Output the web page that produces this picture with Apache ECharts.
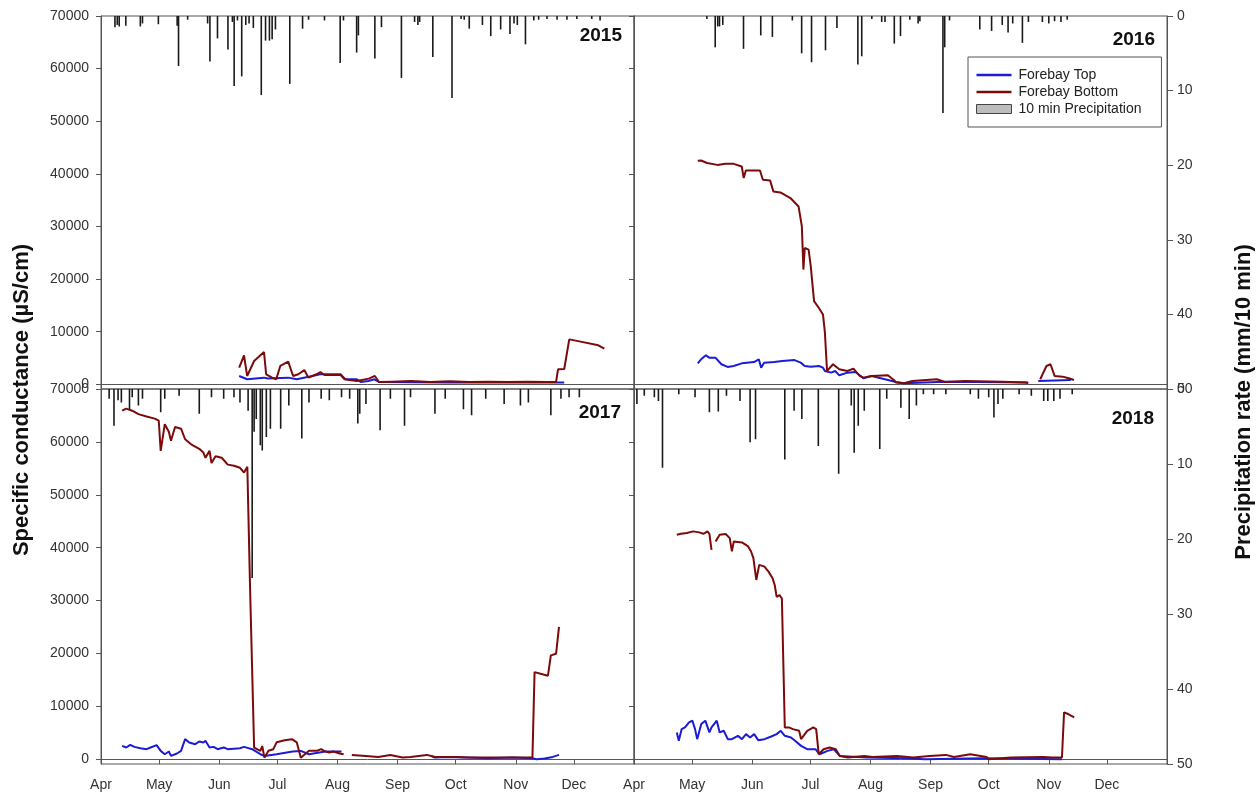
<!DOCTYPE html>
<html>
<head>
<meta charset="utf-8">
<script src="https://cdn.jsdelivr.net/npm/echarts@6/dist/echarts.min.js"></script>
<style>
  html, body { margin: 0; padding: 0; background: #fff; }
  #chart { width: 1260px; height: 794px; }
</style>
</head>
<body>
<div id="chart"></div>
<script>
// x values are days since 1 April of each year
const monthStarts = [0, 30, 61, 91, 122, 153, 183, 214, 244];
const monthNames = ['Apr', 'May', 'Jun', 'Jul', 'Aug', 'Sep', 'Oct', 'Nov', 'Dec'];
const condTicks = [0, 10000, 20000, 30000, 40000, 50000, 60000, 70000];
const years = ['2015', '2016', '2017', '2018'];

// 2015
const bottom2015 = [[71.3,3160],[73.8,5500],[75.4,1580],[79,4420],[84.1,6130],[85.2,1900],[88.3,1260],[90.4,950],[92.5,3480],[96.6,4300],[99.1,1580],[101.8,1900],[104.9,2700],[107,1260],[111.2,1900],[113.2,2300],[115.3,1770],[123.6,1770],[125.7,950],[131.9,630],[138.2,1070],[141.3,1580],[143.4,440],[150,500],[160,600],[170,450],[180,550],[190,450],[200,500],[210,450],[220,500],[230,450],[234.8,440],[235.8,2840],[239,2900],[241.6,8530],[246.2,8200],[256.6,7400],[259.7,6760]];
const top2015 = [[71.3,1580],[75.4,950],[84.1,1260],[86,1100],[96.6,1260],[101,950],[109,1580],[113,1900],[123.6,1900],[126,950],[132,950],[134,440],[138,630],[141,950],[143.4,440],[160,400],[180,350],[200,400],[220,320],[239,320]];
const precip2015 = [[7.2,1.5],[8.4,1.2],[9.4,1.4],[12.8,1.3],[20.3,1.4],[21.4,1.0],[29.6,1.1],[39.3,1.3],[40,6.7],[44.7,0.5],[55,1.0],[56.2,6.1],[60.1,3.0],[65.5,4.5],[67.8,0.8],[68.7,9.4],[70.4,0.6],[72.6,8.1],[74.7,1.2],[76.4,1.0],[78.6,1.6],[82.7,10.6],[84.9,3.3],[86.9,3.3],[88.3,3.1],[90,1.8],[97.4,9.1],[104,1.7],[107.1,0.5],[115.3,0.6],[123.4,6.3],[125.1,0.6],[131.9,4.9],[132.8,2.6],[141.3,5.7],[144.7,1.5],[155,8.3],[161.8,0.8],[163.5,1.2],[164.4,0.8],[171.2,5.5],[181.1,11.0],[185.8,0.4],[187.4,0.5],[190,1.7],[196.8,1.2],[201.1,2.7],[206.2,1.8],[211,2.4],[213.1,1.0],[214.8,1.2],[219,3.8],[223.3,0.6],[225.8,0.5],[230.1,0.4],[235.3,0.5],[240.4,0.5],[245.5,0.4],[253.2,0.4],[257.5,0.6]];

// 2016
const bottom2016 = [[32.9,42470],[34.6,42530],[37.7,42050],[43,41700],[44,42000],[47.2,41900],[51.4,41900],[55.6,41400],[56.6,39200],[57.7,40640],[65,40640],[66.5,38870],[70.2,38750],[71.9,36660],[75.5,36470],[80.7,35400],[84.9,33800],[86.6,30000],[87.4,21800],[88.1,25900],[90.1,25600],[91.2,22400],[92.9,15800],[95.4,14500],[97.5,13270],[98.5,9800],[99.6,2530],[102.7,3800],[105.9,2840],[110.1,2530],[113.2,2970],[116.4,1580],[118.4,1260],[122.6,1580],[131,1710],[134.2,760],[135.2,320],[139.4,190],[143.6,630],[156.2,950],[160.4,440],[170.9,630],[190,500],[202.3,320],[203.4,190],[206,'-'],[209.6,950],[212.8,3480],[214.9,3800],[217,1580],[221.2,1450],[224.3,1140],[227,820]];
const top2016 = [[32.9,3980],[34.6,4740],[37.1,5500],[38.8,5060],[42,5060],[45.1,3800],[48.3,3290],[51.4,3480],[55.6,3980],[61.9,4230],[64.4,4740],[65.6,3160],[67.1,4110],[72.3,4230],[76.5,4420],[82.8,4600],[86,4110],[88.1,3480],[91.2,3350],[95.4,3480],[97.5,3160],[98.5,2530],[101.7,2210],[103.8,2530],[105.9,1700],[110.1,2210],[114.3,2340],[118.4,1140],[122.6,1580],[135.2,440],[139.4,190],[160,500],[190,400],[203.4,320],[206,'-'],[208.6,630],[225.4,820]];
const precip2016 = [[37.6,0.4],[41.9,4.2],[43.2,1.4],[44.1,1.4],[45.8,1.2],[56.5,4.4],[65.4,2.6],[71.4,2.8],[81.7,0.6],[86.5,5.0],[91.6,6.2],[98.8,4.6],[104.7,1.6],[115.5,6.5],[117.5,5.4],[122.7,0.4],[127.8,0.8],[129.5,0.8],[134.3,3.7],[137.5,2.7],[142.3,0.5],[146.6,1.0],[147.5,0.7],[159.4,13.0],[160.3,4.2],[162.8,0.6],[178.4,1.8],[184.5,2.0],[190,1.2],[193,2.2],[195.4,1.0],[200.4,3.6],[203.5,0.8],[210.7,0.8],[214,1.0],[217,0.7],[220.3,0.8],[223.5,0.5]];

// 2017
const bottom2017 = [[10.9,65900],[13,66300],[16.1,65900],[19.3,65250],[23.5,64800],[27.7,64400],[29.8,64000],[30.8,58300],[32.9,63350],[35,61900],[36.1,60200],[38.2,62800],[41.3,62500],[43.4,60500],[46.5,59550],[50.7,58700],[52.8,58000],[53.9,57000],[56,58300],[57,56000],[59.1,57300],[62.3,57000],[65.4,55700],[68.6,55500],[71.7,55100],[73.8,54200],[75.5,55300],[76.3,55100],[76.9,32600],[79,2200],[82.2,1600],[83.2,2500],[84.3,300],[86.4,1600],[88.9,1900],[90.6,3200],[94.8,3600],[98.5,3800],[101,3200],[103.1,300],[107.3,1600],[111.5,1600],[113.6,1900],[115.7,1460],[117.8,1270],[119.9,1460],[123.1,1080],[125.2,950],[127.5,'-'],[129.4,820],[136.7,630],[143,440],[149.3,820],[155.6,320],[159.7,440],[168.1,820],[172.3,440],[182.8,440],[189.1,320],[199.6,320],[212.2,320],[222.6,320],[223.7,16470],[226.8,16150],[230.6,15800],[232.1,19640],[234.8,19950],[236.3,25020]];
const top2017 = [[10.9,2530],[13,2220],[15.1,2720],[17.2,2340],[20.3,2090],[23.5,1900],[25.6,2220],[28.7,2660],[30.8,1580],[32.9,950],[35,1460],[36.1,630],[39.2,1080],[41.3,1580],[43.4,3800],[45.5,3170],[48.6,2850],[50.7,3360],[52.8,3170],[53.9,3480],[56,2220],[58.1,2340],[60.2,1900],[63.3,2220],[65.4,1900],[71.7,2090],[73.8,2340],[78,1900],[82.2,950],[84.3,630],[90.6,950],[98.9,1460],[103.1,1580],[107.3,950],[115.7,1460],[124.1,1460],[127.5,'-'],[170.2,630],[172.3,320],[178.6,440],[189.1,320],[199.6,190],[212.2,320],[222.6,190],[224.7,0],[228.9,130],[233.1,440],[236.3,820]];
const precip2017 = [[4.2,1.3],[6.7,4.9],[8.8,1.5],[10.5,1.8],[14.7,2.7],[16.1,1.1],[19.3,2.2],[21.4,1.3],[30.8,3.1],[32.9,1.3],[40.3,0.9],[50.7,3.3],[57,1.1],[63.3,1.3],[68.6,1.1],[71.7,1.8],[75.9,2.9],[78,25.2],[79,5.7],[80.1,4.0],[82.2,7.5],[83.2,8.2],[85.3,6.4],[87.4,5.3],[92.7,5.3],[96.9,2.2],[103.6,6.6],[107.3,1.8],[113.6,1.3],[117.8,1.5],[124.1,1.1],[128.3,1.3],[132.5,4.6],[133.5,3.3],[136.7,2.0],[144,5.5],[149.3,1.3],[156.6,4.9],[159.7,1.1],[172.3,3.3],[177.6,1.3],[187,2.7],[191.2,3.5],[198.5,1.3],[208,2.0],[216.4,2.2],[220.5,1.8],[232.1,3.5],[237.3,1.3],[241.5,1.1],[246.8,1.1]];

// 2018
const bottom2018 = [[22.1,42440],[24.2,42630],[27.3,42760],[30.5,43080],[33.6,42890],[35.8,42630],[37.9,43080],[38.9,42630],[40,39600],[41,'-'],[42.1,41180],[44.2,42440],[47.3,42570],[49.4,41810],[50.5,39300],[51.5,41180],[55.7,41000],[58.9,40230],[60.4,39280],[61.6,38010],[63.1,33900],[64.6,36740],[67.3,36420],[69.4,35470],[71.5,34200],[72.6,32940],[73.6,30700],[75.1,31040],[76.3,30400],[77.2,30090],[77.8,6020],[79.9,6020],[82,5700],[85.2,5380],[86.2,3800],[89.4,5380],[92.5,6020],[94,5700],[95.3,950],[97.8,1900],[100.9,2220],[104.1,1900],[106.2,630],[110.4,320],[118.8,630],[123,440],[135.6,630],[144.1,320],[152.5,630],[160.9,820],[165.1,440],[173.5,950],[181.9,440],[183,0],[194.5,320],[211.4,440],[215.6,320],[220.8,320],[221.9,8870],[224,8550],[227.1,7920]];
const top2018 = [[22.1,5070],[23.1,3480],[24.6,5700],[26.3,6020],[28.4,6970],[30.1,7290],[31.5,5700],[32.6,3800],[34.7,6650],[36.8,7290],[38.9,5070],[40,6020],[42.7,7290],[44.2,5070],[46.3,5380],[48.4,3800],[50.5,3800],[53.6,4430],[55.7,3800],[57.8,4750],[59.9,4120],[62,4750],[64.1,3610],[67.3,3800],[70.5,4250],[73.6,4750],[75.7,5380],[77.8,4430],[81,4120],[83.1,3480],[86.2,2530],[89.4,1900],[93.6,1900],[95.7,950],[99.9,1580],[103,1900],[106.2,630],[120,320],[140,190],[150,0],[180,190],[220.8,0]];
const precip2018 = [[1.5,2.0],[5.3,0.9],[10.5,1.1],[12.6,1.6],[14.7,10.5],[23.1,0.7],[31.5,1.1],[38.9,3.1],[43.5,3.0],[47.7,0.9],[54.7,1.6],[59.9,7.1],[62.7,6.7],[77.8,9.4],[82.6,2.9],[86.6,4.0],[95.1,7.6],[105.6,11.3],[112.1,2.2],[113.6,8.5],[115.7,4.9],[118.8,2.9],[126.8,8.0],[130.4,1.3],[137.7,2.5],[142,4.0],[145.7,2.2],[149.3,0.7],[154.6,0.7],[160.9,0.7],[173.5,0.7],[177.7,1.3],[183,1.1],[185.7,3.8],[187.8,2.0],[190.3,1.3],[198.7,0.7],[205,0.9],[211.4,1.6],[213.5,1.6],[216.6,1.6],[219.8,1.3],[226.1,0.7]];

const FONT = '"Liberation Sans", Arial, sans-serif';
const AXIS_COLOR = '#555';
const TEXT_COLOR = '#333';
const TOP_COLOR = '#1c1cd4';
const BOTTOM_COLOR = '#7d0a0a';
const LINE_ICON = 'path://M0,0 H36 V2.4 H0 Z';

// panel layout: 2x2, panels share borders
const panels = [
  { top: top2015, bottom: bottom2015, rain: precip2015, left: 101, y: 16, h: 373, col: 0, row: 0, label: [622, 36] },
  { top: top2016, bottom: bottom2016, rain: precip2016, left: 634, y: 16, h: 373, col: 1, row: 0, label: [1155, 40] },
  { top: top2017, bottom: bottom2017, rain: precip2017, left: 101, y: 389, h: 375, col: 0, row: 1, label: [621, 413] },
  { top: top2018, bottom: bottom2018, rain: precip2018, left: 634, y: 389, h: 375, col: 1, row: 1, label: [1154, 419] }
];

const grid = panels.map(p => ({
  left: p.left, top: p.y, width: 533, height: p.h,
  show: true, borderColor: AXIS_COLOR, borderWidth: 1, backgroundColor: 'transparent'
}));

const xAxis = panels.map((p, i) => ({
  type: 'value',
  gridIndex: i,
  min: 0,
  max: 275,
  axisLine: { show: true, lineStyle: { color: AXIS_COLOR, width: 1 } },
  axisTick: { show: p.row === 1, customValues: monthStarts, length: 5, lineStyle: { color: AXIS_COLOR } },
  axisLabel: {
    show: p.row === 1,
    customValues: monthStarts,
    formatter: v => monthNames[monthStarts.indexOf(v)] || '',
    color: TEXT_COLOR, fontSize: 14, fontFamily: FONT, margin: 14
  },
  splitLine: { show: false }
}));

const yAxis = [];
panels.forEach((p, i) => {
  yAxis.push({
    type: 'value',
    gridIndex: i,
    position: 'left',
    min: -900,
    max: 70000,
    axisLine: { show: true, lineStyle: { color: AXIS_COLOR, width: 1 } },
    axisTick: { show: true, customValues: condTicks, length: 5, lineStyle: { color: AXIS_COLOR } },
    axisLabel: {
      show: p.col === 0,
      customValues: condTicks,
      formatter: v => String(v),
      color: TEXT_COLOR, fontSize: 14, fontFamily: FONT, margin: 12
    },
    splitLine: { show: false }
  });
  yAxis.push({
    type: 'value',
    gridIndex: i,
    position: 'right',
    inverse: true,
    min: 0,
    max: 50,
    interval: 10,
    axisLine: { show: true, lineStyle: { color: AXIS_COLOR, width: 1 } },
    axisTick: { show: p.col === 1, length: 6, lineStyle: { color: AXIS_COLOR } },
    axisLabel: { show: p.col === 1, color: TEXT_COLOR, fontSize: 14, fontFamily: FONT, margin: 10 },
    splitLine: { show: false }
  });
});

const series = [];
panels.forEach((p, i) => {
  series.push({
    name: '10 min Precipitation',
    type: 'bar',
    xAxisIndex: i,
    yAxisIndex: i * 2 + 1,
    data: p.rain,
    barWidth: 1.6,
    itemStyle: { color: '#1a1a1a' }
  });
  series.push({
    name: 'Forebay Top',
    type: 'line',
    xAxisIndex: i,
    yAxisIndex: i * 2,
    data: p.top,
    symbol: 'none',
    lineStyle: { color: TOP_COLOR, width: 2 },
    itemStyle: { color: TOP_COLOR }
  });
  series.push({
    name: 'Forebay Bottom',
    type: 'line',
    xAxisIndex: i,
    yAxisIndex: i * 2,
    data: p.bottom,
    symbol: 'none',
    lineStyle: { color: BOTTOM_COLOR, width: 2 },
    itemStyle: { color: BOTTOM_COLOR }
  });
});

const graphic = panels.map((p, i) => ({
  type: 'text',
  x: p.label[0],
  y: p.label[1],
  style: { text: years[i], font: 'bold 19px ' + FONT, fill: '#111', align: 'right', verticalAlign: 'middle' }
}));
graphic.push({
  type: 'text', x: 22, y: 400, rotation: Math.PI / 2,
  style: { text: 'Specific conductance (µS/cm)', font: 'bold 22px ' + FONT, fill: '#111', align: 'center', verticalAlign: 'middle' }
});
graphic.push({
  type: 'text', x: 1244, y: 402, rotation: Math.PI / 2,
  style: { text: 'Precipitation rate (mm/10 min)', font: 'bold 22px ' + FONT, fill: '#111', align: 'center', verticalAlign: 'middle' }
});

const option = {
  animation: false,
  backgroundColor: '#fff',
  grid,
  xAxis,
  yAxis,
  series,
  graphic,
  legend: {
    orient: 'vertical',
    left: 968,
    top: 57,
    padding: [11, 20, 11, 8],
    borderColor: '#555',
    borderWidth: 1,
    itemWidth: 35,
    itemHeight: 9,
    itemGap: 3,
    textStyle: { fontSize: 14, fontFamily: FONT, color: '#222', padding: [0, 0, 0, 2] },
    data: [
      { name: 'Forebay Top', icon: LINE_ICON },
      { name: 'Forebay Bottom', icon: LINE_ICON },
      { name: '10 min Precipitation', icon: 'rect', itemStyle: { color: '#bdbdbd', borderColor: '#444', borderWidth: 1 } }
    ]
  }
};

const chart = echarts.init(document.getElementById('chart'));
chart.setOption(option);
</script>
</body>
</html>
